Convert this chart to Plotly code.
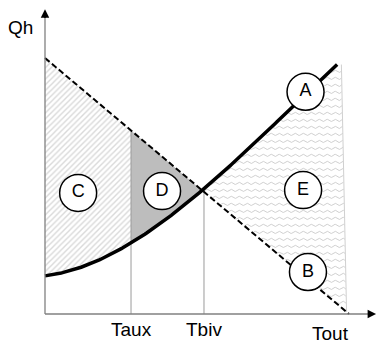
import numpy as np
import plotly.graph_objects as go

# ---- data (abstract units) ----
curve_a_x = [0.0, 0.92, 2.04, 2.86, 4.01, 5.23, 7.30, 9.61]
curve_a_y = [1.45, 1.80, 2.23, 2.77, 3.79, 4.80, 7.19, 9.73]
line_b_x = [0.0, 10.0]
line_b_y = [10.0, 0.0]
t_aux = 2.83
t_biv = 5.23
e_right_top_x = 9.75
e_right_bottom_x = 9.92
labels = ["A", "B", "C", "D", "E"]
label_x = [8.57, 8.65, 1.09, 3.85, 8.49]
label_y = [8.68, 1.64, 4.73, 4.80, 4.84]
axis_titles = ["Qh", "Taux", "Tbiv", "Tout"]

FONT = "Liberation Sans"

coef = np.polyfit(curve_a_x, curve_a_y, 3)
def A(x):
    return np.polyval(coef, x)

fig = go.Figure()

# region C (hatched)
xc = np.linspace(0, t_aux, 60)
fig.add_trace(go.Scatter(
    x=list(xc) + [t_aux, 0.0], y=list(A(xc)) + [10.0 - t_aux, 10.0],
    mode="lines", line=dict(width=0), fill="toself", fillcolor="white",
    fillpattern=dict(shape="/", size=4, solidity=0.35, fgcolor="#b4b4b4", bgcolor="white"),
    hoverinfo="skip", showlegend=False))

# region D (gray)
xd = np.linspace(t_aux, t_biv, 40)
fig.add_trace(go.Scatter(
    x=list(xd) + [t_biv, t_aux], y=list(A(xd)) + [10.0 - t_biv, 10.0 - t_aux],
    mode="lines", line=dict(width=0), fill="toself", fillcolor="#bdbdbd",
    hoverinfo="skip", showlegend=False))

# region E (wavy texture)
a_end_x = curve_a_x[-1]
a_end_y = A(a_end_x)
dense_x = np.linspace(t_biv, a_end_x, 400)
dense_y = A(dense_x)
wx, wy = [], []
row_step = 7 / 25.6
period = 8 / 30.4
amp = 1.1 / 25.6
yk = 0.18
while yk < a_end_y - 0.05:
    if yk > A(t_biv):
        xl = np.interp(yk, dense_y, dense_x)
    else:
        xl = 10.0 - yk
    frac = (yk - 0.08) / (a_end_y - 0.08)
    xr = e_right_bottom_x + (e_right_top_x - e_right_bottom_x) * frac
    if xr > xl:
        xs = np.arange(xl, xr, 0.02)
        wx += list(xs) + [None]
        wy += list(yk + amp * np.sin(2 * np.pi * xs / period)) + [None]
    yk += row_step
fig.add_trace(go.Scatter(x=wx, y=wy, mode="lines",
                         line=dict(color="#c4c4c4", width=0.8),
                         hoverinfo="skip", showlegend=False))
# right edge of E
fig.add_trace(go.Scatter(x=[e_right_top_x, e_right_bottom_x],
                         y=[a_end_y, 10.0 - e_right_bottom_x], mode="lines",
                         line=dict(color="#d0d0d0", width=1),
                         hoverinfo="skip", showlegend=False))

# vertical guide lines
fig.add_trace(go.Scatter(x=[t_aux, t_aux], y=[0, 10.0 - t_aux], mode="lines",
                         line=dict(color="#9a9a9a", width=1), hoverinfo="skip", showlegend=False))
fig.add_trace(go.Scatter(x=[t_biv, t_biv], y=[0, A(t_biv)], mode="lines",
                         line=dict(color="#9a9a9a", width=1), hoverinfo="skip", showlegend=False))

# line B (dashed)
fig.add_trace(go.Scatter(x=line_b_x, y=line_b_y, mode="lines",
                         line=dict(color="black", width=2, dash="6px,3px"),
                         hoverinfo="skip", showlegend=False))
# curve A
xa = np.linspace(curve_a_x[0], curve_a_x[-1], 200)
fig.add_trace(go.Scatter(x=xa, y=A(xa), mode="lines",
                         line=dict(color="black", width=3.5),
                         hoverinfo="skip", showlegend=False))

# circled labels
fig.add_trace(go.Scatter(x=label_x, y=label_y, mode="markers+text", text=labels,
                         textposition="middle center",
                         textfont=dict(family=FONT, size=18, color="black"),
                         marker=dict(size=37, color="white", line=dict(color="black", width=1.5)),
                         hoverinfo="skip", showlegend=False))

# axes lines
fig.add_shape(type="line", x0=0, y0=0, x1=10.75, y1=0, line=dict(color="#808080", width=1.3))
fig.add_shape(type="line", x0=0, y0=0, x1=0, y1=11.7, line=dict(color="#808080", width=1.3))
fig.add_annotation(x=0, y=11.9, ax=0, ay=11.5, xref="x", yref="y", axref="x", ayref="y",
                   text="", showarrow=True, arrowhead=2, arrowsize=1.3, arrowwidth=1.3, arrowcolor="black")
fig.add_annotation(x=10.89, y=0, ax=10.6, ay=0, xref="x", yref="y", axref="x", ayref="y",
                   text="", showarrow=True, arrowhead=2, arrowsize=1.3, arrowwidth=1.3, arrowcolor="black")

# axis titles
fig.add_annotation(x=-0.79, y=11.2, text=axis_titles[0], showarrow=False,
                   font=dict(family=FONT, size=19, color="black"))
fig.add_annotation(x=t_aux, y=-0.62, text=axis_titles[1], showarrow=False,
                   font=dict(family=FONT, size=19, color="black"))
fig.add_annotation(x=t_biv, y=-0.62, text=axis_titles[2], showarrow=False,
                   font=dict(family=FONT, size=19, color="black"))
fig.add_annotation(x=9.38, y=-0.78, text=axis_titles[3], showarrow=False,
                   font=dict(family=FONT, size=19, color="black"))

fig.update_layout(
    width=377, height=343, margin=dict(l=0, r=0, t=0, b=0),
    paper_bgcolor="white", plot_bgcolor="white",
    xaxis=dict(range=[-45 / 30.4, 332 / 30.4], visible=False, fixedrange=True),
    yaxis=dict(range=[-29 / 25.6, 314 / 25.6], visible=False, fixedrange=True),
)

fig.write_html("out.html", config={"displayModeBar": False},
               post_script="document.body.style.margin='0px';")
